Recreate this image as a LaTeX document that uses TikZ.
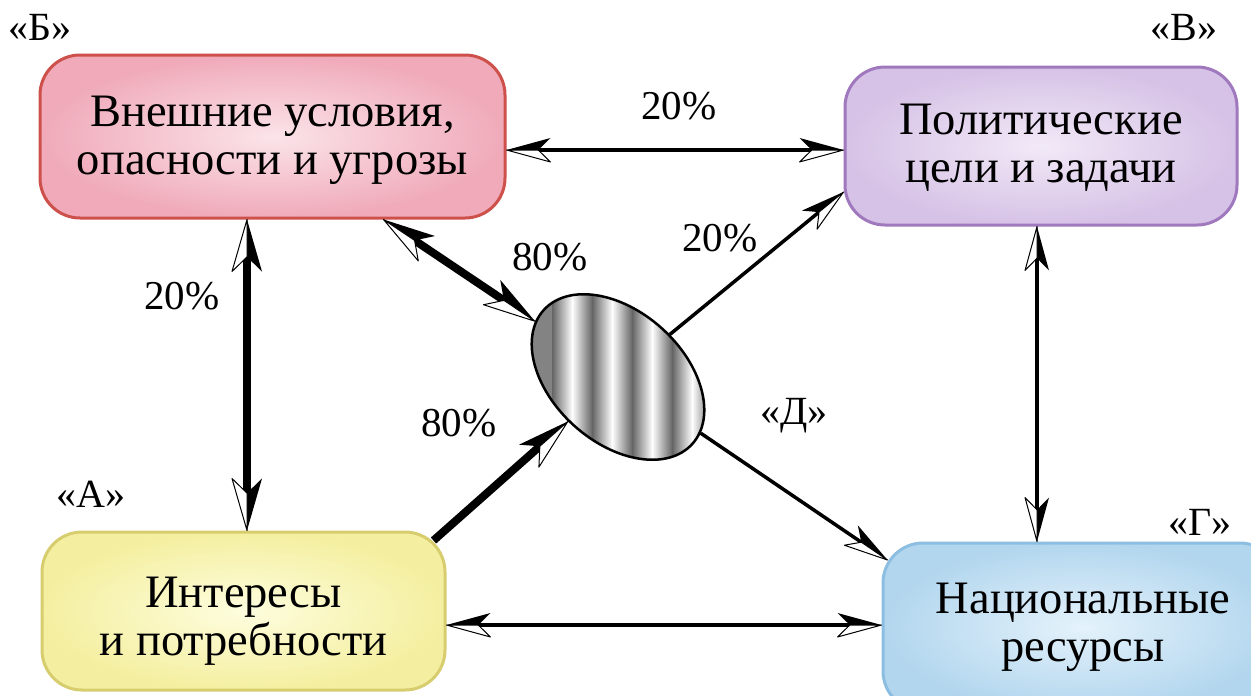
\documentclass[tikz,border=0pt]{standalone}
\usepackage{fontspec}
\setmainfont{Liberation Serif}
\newfontfamily\tmsfont{Liberation Serif}
\usetikzlibrary{arrows.meta,shapes.geometric}

\pgfdeclarearrow{
  name = FlL,
  parameters = {\the\pgfarrowlength,\the\pgfarrowwidth},
  setup code = {
    \pgfarrowssettipend{0pt}
    \pgfarrowssetlineend{-.72\pgfarrowlength}
    \pgfarrowssetbackend{-\pgfarrowlength}
    \pgfarrowssetvisualbackend{-\pgfarrowlength}
    \pgfarrowssavethe\pgfarrowlength
    \pgfarrowssavethe\pgfarrowwidth
  },
  drawing code = {
    \pgfsetlinewidth{1pt}
    \pgfsetroundjoin
    \pgfpathmoveto{\pgfqpoint{0pt}{0pt}}
    \pgfpathlineto{\pgfqpoint{-\pgfarrowlength}{-.5\pgfarrowwidth}}
    \pgfpathlineto{\pgfqpoint{-.72\pgfarrowlength}{0pt}}
    \pgfpathclose
    \pgfsetfillcolor{black}
    \pgfusepathqfill
    \pgfpathmoveto{\pgfqpoint{0pt}{0pt}}
    \pgfpathlineto{\pgfqpoint{-\pgfarrowlength}{.5\pgfarrowwidth}}
    \pgfpathlineto{\pgfqpoint{-.72\pgfarrowlength}{0pt}}
    \pgfpathclose
    \pgfsetfillcolor{white}
    \pgfsetstrokecolor{black}
    \pgfusepathqfillstroke
  },
  defaults = {length=44pt,width=24pt}
}
\pgfdeclarearrow{
  name = FlR,
  parameters = {\the\pgfarrowlength,\the\pgfarrowwidth},
  setup code = {
    \pgfarrowssettipend{0pt}
    \pgfarrowssetlineend{-.72\pgfarrowlength}
    \pgfarrowssetbackend{-\pgfarrowlength}
    \pgfarrowssetvisualbackend{-\pgfarrowlength}
    \pgfarrowssavethe\pgfarrowlength
    \pgfarrowssavethe\pgfarrowwidth
  },
  drawing code = {
    \pgfsetlinewidth{1pt}
    \pgfsetroundjoin
    \pgfpathmoveto{\pgfqpoint{0pt}{0pt}}
    \pgfpathlineto{\pgfqpoint{-\pgfarrowlength}{.5\pgfarrowwidth}}
    \pgfpathlineto{\pgfqpoint{-.72\pgfarrowlength}{0pt}}
    \pgfpathclose
    \pgfsetfillcolor{black}
    \pgfusepathqfill
    \pgfpathmoveto{\pgfqpoint{0pt}{0pt}}
    \pgfpathlineto{\pgfqpoint{-\pgfarrowlength}{-.5\pgfarrowwidth}}
    \pgfpathlineto{\pgfqpoint{-.72\pgfarrowlength}{0pt}}
    \pgfpathclose
    \pgfsetfillcolor{white}
    \pgfsetstrokecolor{black}
    \pgfusepathqfillstroke
  },
  defaults = {length=44pt,width=24pt}
}

\definecolor{redB}{RGB}{205,80,75}
\definecolor{redO}{RGB}{240,170,186}
\definecolor{redI}{RGB}{251,228,233}
\definecolor{vioB}{RGB}{160,120,190}
\definecolor{vioO}{RGB}{214,194,230}
\definecolor{vioI}{RGB}{242,233,247}
\definecolor{yelB}{RGB}{215,205,110}
\definecolor{yelO}{RGB}{244,239,160}
\definecolor{yelI}{RGB}{254,253,222}
\definecolor{bluB}{RGB}{140,190,225}
\definecolor{bluO}{RGB}{178,214,238}
\definecolor{bluI}{RGB}{228,242,251}
\definecolor{stripeDk}{RGB}{100,100,100}

\begin{document}
\begin{tikzpicture}[x=1pt,y=-1pt,
  box/.style={draw, rounded corners=40pt, line width=3pt, inner sep=0pt},
  boxtext/.style={align=center, inner sep=0pt, font=\tmsfont\fontsize{46.5}{48}\selectfont},
  pct/.style={font=\tmsfont\fontsize{41}{43}\selectfont, inner sep=0pt},
  tag/.style={font=\tmsfont\fontsize{40}{42}\selectfont, inner sep=0pt},
  thinc/.style={line width=3.5pt},
  thickc/.style={line width=8pt},
  boththin/.style={thinc, {FlL[length=44pt,width=24pt]}-{FlR[length=44pt,width=24pt]}},
  endthin/.style={thinc, -{FlR[length=44pt,width=24pt]}},
  boththick/.style={thickc, {FlL[length=52pt,width=30pt]}-{FlR[length=52pt,width=30pt]}},
  endthick/.style={thickc, -{FlR[length=52pt,width=30pt]}}
]
\useasboundingbox (0,0) rectangle (1251,696);
\fill[white] (0,0) rectangle (1251,696);
\clip (0,0) rectangle (1251,696);

% boxes
\node[box, draw=redB, inner color=redI, outer color=redO,
  minimum width=465pt, minimum height=163pt] (B) at (272.5,136.5) {};
\node[box, draw=vioB, inner color=vioI, outer color=vioO,
  minimum width=392pt, minimum height=158pt] (V) at (1041,146) {};
\node[box, draw=yelB, inner color=yelI, outer color=yelO,
  minimum width=403pt, minimum height=158pt] (A) at (243.5,611) {};
\node[box, draw=bluB, inner color=bluI, outer color=bluO,
  minimum width=397pt, minimum height=168pt] (G) at (1081.5,627) {};

\node[boxtext] (Bt) at ([yshift=-4pt]B.center) {Внешние условия,\\опасности и угрозы};
\node[boxtext] (Vt) at ([yshift=-2pt]V.center) {Политические\\цели и задачи};
\node[boxtext] (At) at ([yshift=-10pt]A.center) {Интересы\\и потребности};
\node[boxtext] (Gt) at (1083,627) {Национальные\\ресурсы};

% striped ellipse
\begin{scope}
  \clip[rotate around={-42:(618,377)}] (618,377) ellipse [x radius=100, y radius=65.5];
  \fill[stripeDk!80!white] (500,270) rectangle (553,480);
  \foreach \s in {552,592,632,672}{
    \shade[left color=stripeDk, right color=white] (\s,270) rectangle (\s+20.5,480);
    \shade[left color=white, right color=stripeDk] (\s+20,270) rectangle (\s+40.5,480);
  }
  \fill[stripeDk] (712,270) rectangle (725,480);
\end{scope}
\node[draw, line width=2.5pt, shape=ellipse, rotate=-42, minimum width=200pt,
  minimum height=131pt, inner sep=0pt] (D) at (618,377) {};

% connectors
\draw[boththin] ([yshift=-13.5pt]B.east) -- ([yshift=-13.5pt]B.east -| V.west);
\draw[boththick] ([xshift=-25.5pt]B.south) -- ([xshift=-25.5pt]B.south |- A.north);
\draw[boththick] ([xshift=111pt]B.south) -- (D);
\draw[endthick] ([shift={(-13,10)}]A.north east) -- (D);
\draw[endthin] (D) -- ([yshift=-46pt]V.west);
\draw[endthin] (D) -- ([xshift=6pt,yshift=67pt]G.west);
\draw[boththin] ([xshift=-4pt]V.south) -- ([xshift=-4pt]V.south |- G.north);
\draw[boththin] ([yshift=-14pt]A.east) -- ([yshift=-14pt]A.east -| G.west);

% labels
\node[pct] (p1) at (679,106) {20\%};
\node[pct] (p2) at (182,296) {20\%};
\node[pct] (p3) at (550,257) {80\%};
\node[pct] (p4) at (720,238) {20\%};
\node[pct] (p5) at (459,423) {80\%};

\node[tag] (tB) at (40,27) {«Б»};
\node[tag] (tV) at (1184,27) {«В»};
\node[tag] (tA) at (91,494) {«А»};
\node[tag] (tG) at (1200,522) {«Г»};
\node[tag] (tD) at (794,416) {«Д»};
\end{tikzpicture}
\end{document}
